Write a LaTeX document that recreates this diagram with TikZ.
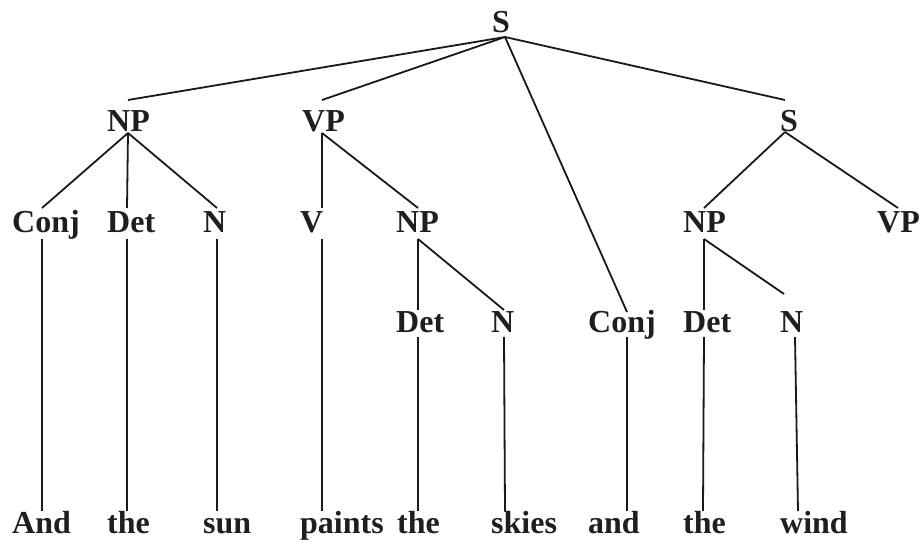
\documentclass[tikz,border=0pt]{standalone}
\usepackage{fontspec}
\setmainfont{Liberation Serif}
\begin{document}
\begin{tikzpicture}[x=1pt,y=-1pt,
  lab/.style={anchor=base west,inner sep=0pt,font=\fontsize{32}{36}\selectfont\bfseries,text=black!88},
  edge/.style={line width=1.8pt,black!90}]
\useasboundingbox (0,0) rectangle (922,545);
% labels
\node[lab] (s0) at (492,33) {S};
\node[lab] (np1) at (107,132) {NP};
\node[lab] (vp1) at (302,132) {VP};
\node[lab] (s1) at (780,132) {S};
\node[lab] (conj1) at (12,233) {Conj};
\node[lab] (det1) at (107,233) {Det};
\node[lab] (n1) at (203,233) {N};
\node[lab] (v1) at (300,233) {V};
\node[lab] (np2) at (396,233) {NP};
\node[lab] (np3) at (683,233) {NP};
\node[lab] (vp2) at (877,233) {VP};
\node[lab] (det2) at (396,333) {Det};
\node[lab] (n2) at (491,333) {N};
\node[lab] (conj2) at (588,333) {Conj};
\node[lab] (det3) at (683,333) {Det};
\node[lab] (n3) at (780,333) {N};
\node[lab] (w1) at (12,533) {And};
\node[lab] (w2) at (107,533) {the};
\node[lab] (w3) at (203,533) {sun};
\node[lab] (w4) at (300,533) {paints};
\node[lab] (w5) at (397,533) {the};
\node[lab] (w6) at (491,533) {skies};
\node[lab] (w7) at (588,533) {and};
\node[lab] (w8) at (683,533) {the};
\node[lab] (w9) at (780,533) {wind};
% attachment points
\coordinate (s0b) at (505,37);
\coordinate (np1t) at (128,100); \coordinate (np1b) at (128,133);
\coordinate (vp1t) at (322,100); \coordinate (vp1b) at (322,133);
\coordinate (s1t) at (785,100);  \coordinate (s1b) at (785,132);
\coordinate (conj1t) at (42,208); \coordinate (conj1b) at (42,239);
\coordinate (det1t) at (127,208); \coordinate (det1b) at (127,239);
\coordinate (n1t) at (217,208);   \coordinate (n1b) at (217,239);
\coordinate (v1t) at (322,208);   \coordinate (v1b) at (322,239);
\coordinate (np2t) at (418,208);  \coordinate (np2b) at (418,239);
\coordinate (np3t) at (704,208);  \coordinate (np3b) at (704,239);
\coordinate (vp2t) at (898,208);
\coordinate (det2t) at (418,310); \coordinate (det2b) at (418,337);
\coordinate (n2t) at (504,310);   \coordinate (n2b) at (504,337);
\coordinate (conj2t) at (627,312); \coordinate (conj2b) at (627,337);
\coordinate (det3t) at (704,310); \coordinate (det3b) at (704,337);
\coordinate (n3t) at (784,294);   \coordinate (n3b) at (795,337);
\coordinate (w1t) at (42,511);
\coordinate (w2t) at (127,511);
\coordinate (w3t) at (217,511);
\coordinate (w4t) at (322,511);
\coordinate (w5t) at (418,511);
\coordinate (w6t) at (505,511);
\coordinate (w7t) at (627,511);
\coordinate (w8t) at (703,511);
\coordinate (w9t) at (798,511);
% edges
\draw[edge] (s0b) -- (np1t);
\draw[edge] (s0b) -- (vp1t);
\draw[edge] (s0b) -- (conj2t);
\draw[edge] (s0b) -- (s1t);
\draw[edge] (np1b) -- (conj1t);
\draw[edge] (np1b) -- (det1t);
\draw[edge] (np1b) -- (n1t);
\draw[edge] (vp1b) -- (v1t);
\draw[edge] (vp1b) -- (np2t);
\draw[edge] (s1b) -- (np3t);
\draw[edge] (s1b) -- (vp2t);
\draw[edge] (np2b) -- (det2t);
\draw[edge] (np2b) -- (n2t);
\draw[edge] (np3b) -- (det3t);
\draw[edge] (np3b) -- (n3t);
\draw[edge] (conj1b) -- (w1t);
\draw[edge] (det1b) -- (w2t);
\draw[edge] (n1b) -- (w3t);
\draw[edge] (v1b) -- (w4t);
\draw[edge] (det2b) -- (w5t);
\draw[edge] (n2b) -- (w6t);
\draw[edge] (conj2b) -- (w7t);
\draw[edge] (det3b) -- (w8t);
\draw[edge] (n3b) -- (w9t);
\end{tikzpicture}
\end{document}
